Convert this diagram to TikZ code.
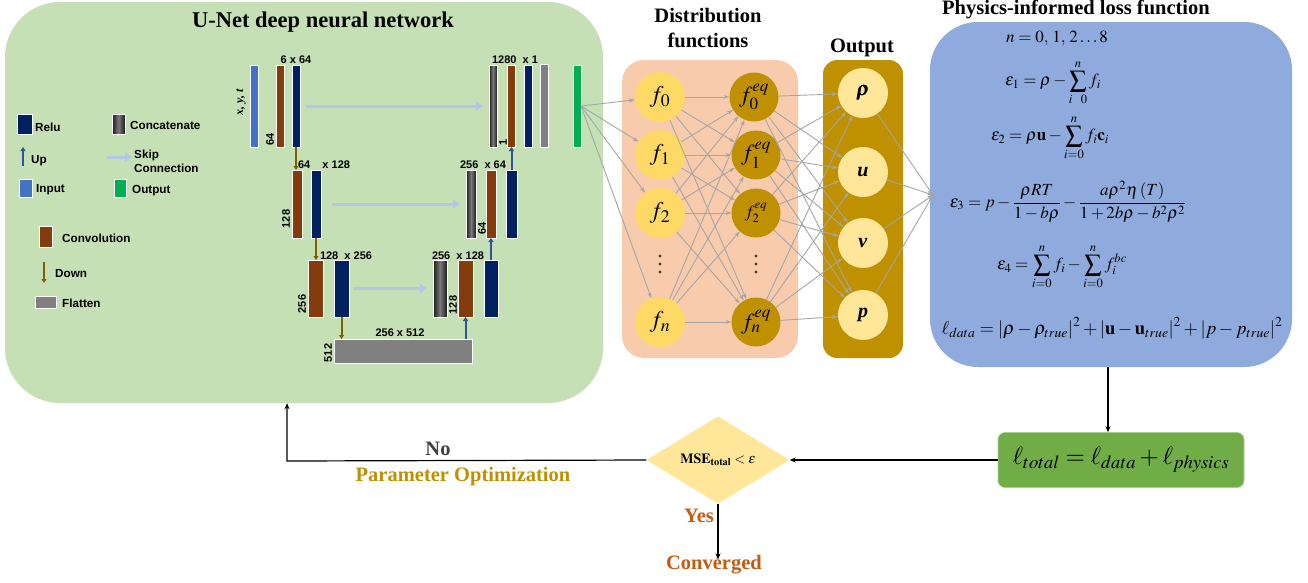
\documentclass[tikz,border=0pt]{standalone}
\usepackage{mathptmx}
\usepackage{bm}
\usepackage{fontspec}
\setmainfont{Liberation Serif}
\setsansfont{Liberation Sans}
\usetikzlibrary{arrows.meta,shapes.geometric,calc}
\definecolor{unetg}{HTML}{C5E0B4}
\definecolor{peach}{HTML}{F8CBAD}
\definecolor{gold}{HTML}{BF9000}
\definecolor{fyel}{HTML}{FFD966}
\definecolor{lyel}{HTML}{FFE699}
\definecolor{lossb}{HTML}{8FAADC}
\definecolor{totg}{HTML}{70AD47}
\definecolor{inb}{HTML}{4472C4}
\definecolor{convb}{HTML}{843C0C}
\definecolor{reluc}{HTML}{002060}
\definecolor{flatc}{HTML}{808080}
\definecolor{outc}{HTML}{00B050}
\definecolor{skipc}{HTML}{B4C7E7}
\definecolor{downc}{HTML}{7F6000}
\definecolor{upc}{HTML}{2F5597}
\definecolor{nnc}{HTML}{A6A6A6}
\definecolor{noc}{HTML}{404040}
\definecolor{yesc}{HTML}{C55A11}
\definecolor{catmid}{HTML}{7A7A7A}
\definecolor{catend}{HTML}{1A1A1A}
\begin{document}
\begin{tikzpicture}[x=1pt,y=-1pt,
  bar/.style={rectangle, draw=white, line width=0.5pt, inner sep=0pt, outer sep=0pt},
  catsh/.style={left color=catend, right color=catend, middle color=catmid},
  lab/.style={font=\sffamily\bfseries\fontsize{11}{12}\selectfont, inner sep=0pt},
  rlab/.style={lab, rotate=90},
  leg/.style={font=\sffamily\bfseries\fontsize{11.7}{13}\selectfont, inner sep=0pt, anchor=west},
  ttl/.style={font=\bfseries\fontsize{20.5}{24}\selectfont, inner sep=0pt},
  panel/.style={rectangle, inner sep=0pt},
  skip/.style={draw=skipc, line width=3pt, -{Triangle[length=7pt,width=9pt]}},
  dn/.style={draw=downc, line width=2pt, -{Triangle[length=4pt,width=5pt]}},
  upa/.style={draw=upc, line width=2pt, -{Triangle[length=4pt,width=5pt]}},
  nn/.style={draw=nnc, line width=0.9pt, -{Stealth[length=6pt,width=4pt]}},
  flow/.style={draw=black, line width=1.2pt, -{Stealth[length=6pt,width=5pt]}},
  fnode/.style={circle, fill=fyel, minimum size=50pt, inner sep=0pt, font=\fontsize{24}{26}\selectfont},
  enode/.style={circle, fill=gold, minimum size=49pt, inner sep=0pt, font=\fontsize{23}{26}\selectfont},
  onode/.style={circle, fill=lyel, minimum size=50pt, inner sep=0pt, font=\fontsize{20}{22}\selectfont},
  eqn/.style={inner sep=0pt, font=\fontsize{17}{20}\selectfont},
  dotc/.style={fill=black!75, draw=none}
]
\useasboundingbox (0,0) rectangle (1308,582);

% ---------- panels
\node[panel, fill=unetg, rounded corners=55pt, minimum width=598, minimum height=401] (unet) at (304,202.5) {};
\node[panel, fill=peach, rounded corners=22pt, minimum width=176, minimum height=298] (dist) at (710,209) {};
\node[panel, fill=gold, rounded corners=14pt, minimum width=80, minimum height=298] (outp) at (863,209) {};
\node[panel, fill=lossb, rounded corners=48pt, minimum width=362, minimum height=345] (loss) at (1111,194.5) {};

% ---------- titles
\node[ttl, font=\bfseries\fontsize{22.5}{26}\selectfont] (t1) at (323,22) {U-Net deep neural network};
\node[ttl, align=center, font=\bfseries\fontsize{20.5}{25}\selectfont] (t2) at (708,28) {Distribution\\functions};
\node[ttl] (t3) at (862,48) {Output};
\node[ttl] (t4) at (1076,9) {Physics-informed loss function};

% ---------- legend
\node[bar, fill=reluc, minimum width=15, minimum height=20] (lrelu) at (24.5,124) {};
\node[leg] (lrelut) at (35,127) {Relu};
\node[bar, catsh, minimum width=13, minimum height=20] (lcat) at (118.5,124) {};
\node[leg] (lcatt) at (130,125) {Concatenate};
\coordinate (lupa) at (23,166); \coordinate (lupb) at (23,147);
\draw[upa] (lupa) -- (lupb);
\node[leg] (lupt) at (31,161) {Up};
\coordinate (lska) at (107,157); \coordinate (lskb) at (132,157);
\draw[skip] (lska) -- (lskb);
\node[leg, align=left, font=\sffamily\bfseries\fontsize{11.7}{14}\selectfont] (lskt) at (134,161) {Skip\\Connection};
\node[bar, fill=inb, minimum width=13, minimum height=18] (lin) at (25.5,188) {};
\node[leg] (lint) at (36,190) {Input};
\node[bar, fill=outc, minimum width=12, minimum height=18] (lout) at (120,188) {};
\node[leg] (loutt) at (132,191) {Output};
\node[bar, fill=convb, minimum width=13, minimum height=21] (lconv) at (45.5,236.5) {};
\node[leg] (lconvt) at (62,238) {Convolution};
\coordinate (ldna) at (44,262); \coordinate (ldnb) at (44,283);
\draw[dn] (ldna) -- (ldnb);
\node[leg] (ldnt) at (55,274) {Down};
\node[bar, fill=flatc, minimum width=21, minimum height=12] (lflat) at (45.5,302) {};
\node[leg] (lflatt) at (62,303) {Flatten};

% ---------- U-Net row 1
\node[bar, fill=inb, minimum width=8, minimum height=82] (in1) at (254,106) {};
\node[bar, fill=convb, minimum width=8, minimum height=82] (c1) at (280,106) {};
\node[bar, fill=reluc, minimum width=8, minimum height=82] (r1) at (296,106) {};
\node[bar, catsh, minimum width=8, minimum height=82] (cat1) at (493,106) {};
\node[bar, fill=convb, minimum width=8, minimum height=82] (c1b) at (511,106) {};
\node[bar, fill=reluc, minimum width=8, minimum height=82] (r1b) at (528,106) {};
\node[bar, fill=flatc, minimum width=8, minimum height=83] (fl1) at (544,105.5) {};
\node[bar, fill=outc, minimum width=8, minimum height=82] (out1) at (577,106) {};
\node[inner sep=0pt, rotate=90, font=\itshape\bfseries\fontsize{12}{14}\selectfont] (xyt) at (241,102) {x, y, t};
\node[rlab] (l64a) at (270,139) {64};
\node[lab] (l664) at (296,60) {6 x 64};
\node[lab] (l1280) at (515,60) {1280\ \ x 1};
\node[rlab] (l1) at (503,142) {1};

% ---------- U-Net row 2
\node[bar, fill=convb, minimum width=10, minimum height=68] (c2) at (297,204) {};
\node[bar, fill=reluc, minimum width=10, minimum height=68] (r2) at (316,204) {};
\node[bar, catsh, minimum width=10, minimum height=68] (cat2) at (471,204) {};
\node[bar, fill=convb, minimum width=10, minimum height=68] (c2b) at (491,204) {};
\node[bar, fill=reluc, minimum width=11, minimum height=68] (r2b) at (511.5,204) {};
\node[lab] (l64128) at (324,165) {64\ \ \ \ x 128};
\node[rlab] (l128a) at (286,219) {128};
\node[lab] (l25664) at (483,165) {256\ \ x 64};
\node[rlab] (l64b) at (482,228) {64};

% ---------- U-Net row 3
\node[bar, fill=convb, minimum width=15, minimum height=57] (c3) at (315.5,288.5) {};
\node[bar, fill=reluc, minimum width=15, minimum height=57] (r3) at (341.5,288.5) {};
\node[bar, catsh, minimum width=14, minimum height=57] (cat3) at (440,288.5) {};
\node[bar, fill=convb, minimum width=15, minimum height=57] (c3b) at (465.5,288.5) {};
\node[bar, fill=reluc, minimum width=14, minimum height=57] (r3b) at (491,288.5) {};
\node[lab] (l128256) at (346,256) {128\ \ x 256};
\node[rlab] (l256a) at (302,304) {256};
\node[lab] (l256128) at (458,256) {256\ \ x 128};
\node[rlab] (l128b) at (453,305) {128};

% ---------- bottleneck
\node[bar, fill=flatc, minimum width=138, minimum height=24] (fl) at (403,351) {};
\node[lab] (l256512) at (400,333) {256 x 512};
\node[rlab] (l512) at (328,353) {512};

% ---------- U-Net arrows
\draw[dn] (r1.south) -- (r1.south |- c2.north);
\draw[dn] (r2.south) -- (r2.south |- c3.north);
\draw[dn] (r3.south) -- (r3.south |- fl.north);
\draw[upa] (c3b.south |- fl.north) -- (c3b.south);
\draw[upa] (r3b.north) -- (r3b.north |- c2b.south);
\draw[upa] (r2b.north) -- (r2b.north |- c1b.south);
\draw[skip] ([xshift=6pt]r1.east) -- ([xshift=-6pt]cat1.west);
\draw[skip] ([xshift=11pt]r2.east) -- ([xshift=-6pt]cat2.west);
\draw[skip] ([xshift=4pt]r3.east) -- ([xshift=-6pt]cat3.west);

% ---------- distribution function nodes
\node[fnode] (f0) at (660,97) {$f_0$};
\node[fnode] (f1) at (660,155) {$f_1$};
\node[fnode] (f2) at (660,213) {$f_2$};
\node[fnode] (fn) at (660,322) {$f_n$};
\node[enode] (e0) at (754,97) {$f_0^{eq}$};
\node[enode] (e1) at (756,155) {$f_1^{eq}$};
\node[enode, font=\fontsize{17}{19}\selectfont] (e2) at (756,213) {$f_2^{eq}$};
\node[enode] (en) at (756,322) {$f_n^{eq}$};
\foreach \yy in {256,264,272} {
  \fill[dotc] (660,\yy) circle (1.7);
  \fill[dotc] (756,\yy) circle (1.7);
}

% ---------- output nodes
\node[onode] (orho) at (863,93) {$\bm{\rho}$};
\node[onode] (ou) at (863,172) {\textbf{\textit{u}}};
\node[onode] (ov) at (863,243) {\textbf{\textit{v}}};
\node[onode] (op) at (863,315) {\textbf{\textit{p}}};

% ---------- network connections
\foreach \a in {f0,f1,f2,fn} \draw[nn] (out1.east) -- (\a);
\foreach \a in {f0,f1,f2,fn} \foreach \b in {e0,e1,e2,en} \draw[nn] (\a) -- (\b);
\foreach \b in {e0,e1,e2,en} \foreach \o in {orho,ou,ov,op} \draw[nn] (\b) -- (\o);
\coordinate (lossin) at (933,195);
\foreach \o in {orho,ou,ov,op} \draw[nn] (\o) -- (lossin);

% ---------- loss formulas
\node[eqn] (eqn0) at (1057,38) {$n = 0,\,1,\,2\ldots 8$};
\node[eqn] (eq1) at (1053,83) {$\displaystyle \varepsilon_1 = \rho - \sum_{i\ \ 0}^{n} f_i$};
\node[eqn] (eq2) at (1050,138) {$\displaystyle \varepsilon_2 = \rho\mathbf{u} - \sum_{i=0}^{n} f_i\mathbf{c}_i$};
\node[eqn] (eq3) at (1068,202) {$\displaystyle \varepsilon_3 = p - \frac{\rho RT}{1-b\rho} - \frac{a\rho^2\eta\left(T\right)}{1+2b\rho-b^2\rho^2}$};
\node[eqn] (eq4) at (1062,267) {$\displaystyle \varepsilon_4 = \sum_{i=0}^{n} f_i - \sum_{i=0}^{n} f_i^{bc}$};
\node[eqn, font=\fontsize{18.5}{22}\selectfont] (eq5) at (1112,328) {$\ell_{data} = \left|\rho-\rho_{true}\right|^2 + \left|\mathbf{u}-\mathbf{u}_{true}\right|^2 + \left|p-p_{true}\right|^2$};

% ---------- bottom loop
\node[rectangle, rounded corners=7pt, fill=totg, draw=totg!60!white, line width=0.6pt, minimum width=246, minimum height=55, inner sep=0pt, font=\fontsize{25}{28}\selectfont] (total) at (1121,460) {$\ell_{total} = \ell_{data} + \ell_{physics}$};
\node[diamond, fill=lyel, minimum width=143, minimum height=60, inner sep=0pt, font=\fontsize{14}{16}\selectfont] (dia) at (718,460) {$\mathbf{MSE}_{\mathbf{total}} < \varepsilon$};
\node[ttl] (conv) at (714,565) {\textcolor{yesc}{Converged}};
\node[ttl] (yes) at (699,516) {\textcolor{yesc}{Yes}};
\node[ttl] (no) at (438,449) {\textcolor{noc}{No}};
\node[ttl] (popt) at (463,477) {\textcolor{gold}{Parameter Optimization}};
\coordinate (tarrow) at (1108,0);
\coordinate (back) at (287,461);
\draw[flow] (loss.south -| tarrow) -- (total.north -| tarrow);
\draw[flow] (total.west) -- (dia.east);
\draw[flow] (dia.west) -- (back) -- (back |- unet.south);
\draw[flow] (dia.south) -- ([yshift=-4pt]dia.south |- conv.north);
\end{tikzpicture}
\end{document}
